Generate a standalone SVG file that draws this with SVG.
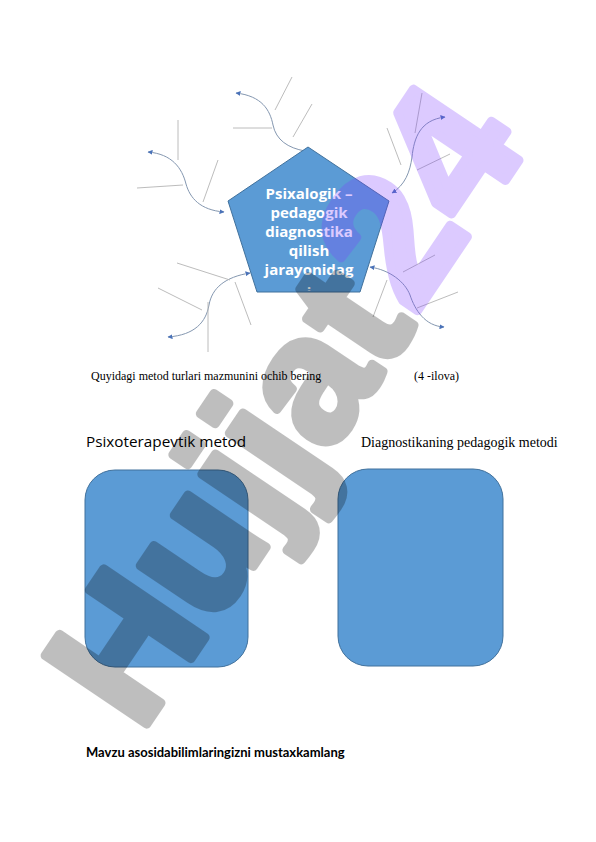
<svg xmlns="http://www.w3.org/2000/svg" width="596" height="842" viewBox="0 0 596 842">
<defs>
<style>
.curve{fill:none;stroke:#8497b0;stroke-width:1}
.branch{fill:none;stroke:#b4b4b4;stroke-width:0.9}
.shape{fill:#5b9bd5;stroke:#41719c;stroke-width:1}
.ptext{font-family:"Open Sans","Noto Sans",sans-serif;font-weight:bold;font-size:15px;fill:#ffffff;text-anchor:middle}
.serif{font-family:"Liberation Serif","Times New Roman",serif;fill:#000}
.wm{font-family:"Liberation Sans",Arial,sans-serif;font-weight:bold;stroke-linejoin:round}
</style>
<marker id="arr" viewBox="0 0 10 10" refX="9" refY="5" markerWidth="5" markerHeight="5" orient="auto-start-reverse" markerUnits="userSpaceOnUse">
<path d="M0,0 L10,5 L0,10 z" fill="#4a72b8"/>
</marker>
<clipPath id="clipI"><rect x="250" y="280" width="120" height="10.5"/></clipPath>
</defs>
<rect width="596" height="842" fill="#fff"/>

<g id="connectors">
<path class="curve" d="M305,151 C288,148 276,140 273,125 C270,110 262,96 236,93" marker-end="url(#arr)"/>
<path class="curve" d="M224,212 C200,210 190,198 186,184 C182,168 172,154 148,152" marker-start="url(#arr)" marker-end="url(#arr)"/>
<path class="curve" d="M392,193 C405,185 410,172 412,157 C414,138 420,120 445,117" marker-start="url(#arr)" marker-end="url(#arr)"/>
<path class="curve" d="M370,267 C390,270 405,282 410,295 C415,310 425,326 444,327" marker-start="url(#arr)" marker-end="url(#arr)"/>
<path class="curve" d="M250,273 C225,277 212,288 209,305 C206,322 195,335 168,337" marker-start="url(#arr)" marker-end="url(#arr)"/>
<line class="branch" x1="275" y1="110" x2="292" y2="77"/>
<line class="branch" x1="233" y1="128" x2="272" y2="128"/>
<line class="branch" x1="293" y1="137" x2="312" y2="104"/>
<line class="branch" x1="178" y1="120" x2="178" y2="160"/>
<line class="branch" x1="137" y1="188" x2="183" y2="185"/>
<line class="branch" x1="218" y1="160" x2="203" y2="202"/>
<line class="branch" x1="422" y1="93" x2="415" y2="133"/>
<line class="branch" x1="387" y1="128" x2="401" y2="165"/>
<line class="branch" x1="417" y1="170" x2="450" y2="154"/>
<line class="branch" x1="387" y1="280" x2="373" y2="317"/>
<line class="branch" x1="403" y1="272" x2="435" y2="255"/>
<line class="branch" x1="417" y1="308" x2="458" y2="292"/>
<line class="branch" x1="177" y1="263" x2="230" y2="280"/>
<line class="branch" x1="158" y1="288" x2="202" y2="310"/>
<line class="branch" x1="208" y1="302" x2="208" y2="352"/>
<line class="branch" x1="235" y1="282" x2="251" y2="325"/>
</g>

<g id="center">
<polygon class="shape" points="308,147 389,201 360,292 257,292 228,201"/>
<text class="ptext" x="309" y="199">Psixalogik –</text>
<text class="ptext" x="309" y="218">pedagogik</text>
<text class="ptext" x="309" y="237">diagnostika</text>
<text class="ptext" x="309" y="256">qilish</text>
<text class="ptext" x="309" y="275">jarayonidag</text>
<text class="ptext" x="309" y="298" clip-path="url(#clipI)">i</text>
</g>

<g id="instruction">
<text class="serif" x="91" y="380" font-size="12">Quyidagi metod turlari mazmunini ochib bering</text>
<text class="serif" x="414" y="380" font-size="12">(4 -ilova)</text>
</g>

<g id="box-left">
<text x="86" y="447" font-family="Open Sans, Noto Sans, sans-serif" font-size="15.3" fill="#000">Psixoterapevtik metod</text>
<rect class="shape" x="85" y="470" width="163" height="197" rx="30" ry="30"/>
</g>

<g id="box-right">
<text class="serif" x="361" y="447" font-size="14">Diagnostikaning pedagogik metodi</text>
<rect class="shape" x="338" y="469" width="165" height="197" rx="30" ry="30"/>
</g>

<g id="footer">
<text x="86" y="757" font-family="Lato, sans-serif" font-weight="bold" font-size="13" fill="#000">Mavzu asosidabilimlaringizni mustaxkamlang</text>
</g>

<g id="watermark" class="wm">
<g opacity="0.25">
<text transform="translate(140,734) rotate(-56)" font-size="178" fill="#000" stroke="#000" stroke-width="9">Hujjat</text>
</g>
<g opacity="0.27">
<text transform="translate(414,316) rotate(-56)" font-size="185" fill="#7f3fff" stroke="#7f3fff" stroke-width="9">24</text>
</g>
</g>
</svg>
